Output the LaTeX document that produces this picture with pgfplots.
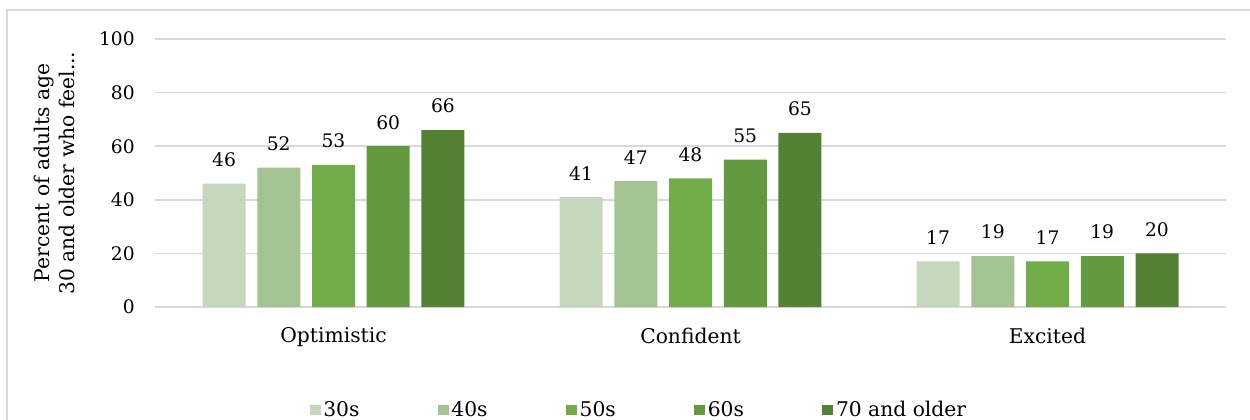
\documentclass[border=0pt]{standalone}
\usepackage{fontspec}
\setmainfont{DejaVu Serif}
\usepackage{pgfplots}
\pgfplotsset{compat=1.18}

\definecolor{cThirty}{HTML}{C5D8BC}
\definecolor{cForty}{HTML}{A3C492}
\definecolor{cFifty}{HTML}{70AC47}
\definecolor{cSixty}{HTML}{639A3F}
\definecolor{cSeventy}{HTML}{548235}
\definecolor{gridgray}{HTML}{D9D9D9}

\newcommand{\lblfont}{\fontsize{15.2}{19}\selectfont}
\newcommand{\numfont}{\fontsize{14}{17}\selectfont}

\begin{document}
\begin{tikzpicture}[x=0.75pt,y=0.75pt]
% page area (1 unit = one pixel of the 1250 x 419 frame)
\useasboundingbox (0,0) rectangle (1250,-419);
% outer chart frame
\draw[gridgray, line width=1.3pt] (7,-440) -- (7,-10) -- (1270,-10);
\begin{axis}[
  at={(116.25pt,-230.25pt)}, anchor=south west,
  scale only axis, width=803.25pt, height=201pt,
  /pgf/number format/assume math mode=true,
  ymin=0, ymax=100, ytick={0,20,...,100},
  xmin=-0.5, xmax=2.5, xtick={0,1,2},
  xticklabels={Optimistic,Confident,Excited},
  axis line style={draw=none}, major tick length=0pt,
  ymajorgrids, grid style={gridgray, line width=1.1pt},
  ybar=8.81pt, bar width=32.25pt,
  tick label style={text=black},
  yticklabel style={font=\numfont, inner sep=0pt, xshift=-15pt},
  xticklabel style={font=\lblfont, inner sep=0pt, yshift=-15.5pt},
  ylabel={Percent of adults age\\30 and older who feel...},
  ylabel style={at={(axis description cs:-0.0747,0.5)}, anchor=south,
    inner sep=0pt, align=center, font=\lblfont},
  nodes near coords,
  nodes near coords style={font=\numfont, text=black, inner sep=0pt,
    anchor=south, yshift=12.5pt},
  legend columns=5,
  legend style={draw=none, fill=none, at={(axis description cs:0.1441,-0.383)},
    anchor=west, inner sep=0pt, font=\lblfont,
    /tikz/every even column/.append style={column sep=56.75pt},
    nodes={inner sep=2pt}},
  legend image code/.code={\fill[#1] (0pt,-3.75pt) rectangle (8.25pt,3.75pt);},
]
\addplot[fill=cThirty, draw=none]   coordinates {(0,46) (1,41) (2,17)};
\addplot[fill=cForty, draw=none]    coordinates {(0,52) (1,47) (2,19)};
\addplot[fill=cFifty, draw=none]    coordinates {(0,53) (1,48) (2,17)};
\addplot[fill=cSixty, draw=none]    coordinates {(0,60) (1,55) (2,19)};
\addplot[fill=cSeventy, draw=none]  coordinates {(0,66) (1,65) (2,20)};
\legend{30s,40s,50s,60s,70 and older}
\end{axis}
\end{tikzpicture}
\end{document}
